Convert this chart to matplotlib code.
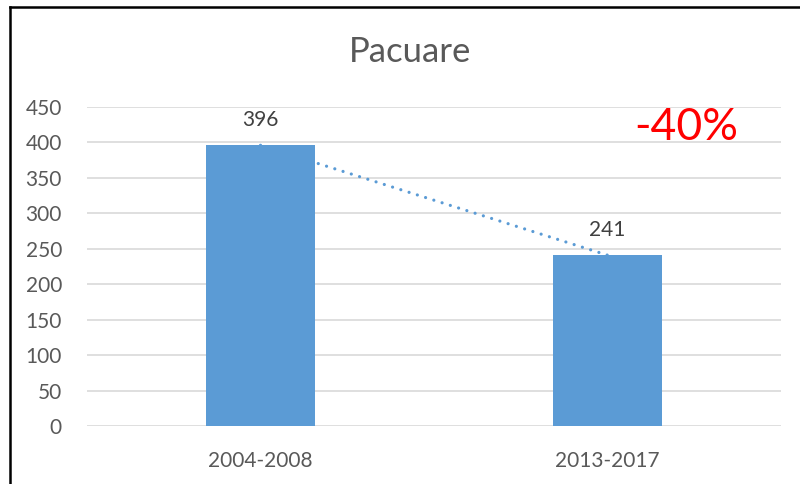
import matplotlib
matplotlib.use("Agg")
import matplotlib.pyplot as plt
import numpy as np
from matplotlib.lines import Line2D

categories = ["2004-2008", "2013-2017"]
values = [396, 241]
title = "Pacuare"
change_label = "-40%"
yticks = [0, 50, 100, 150, 200, 250, 300, 350, 400, 450]

plt.rcParams['font.family'] = ['Lato', 'DejaVu Sans']
text_col = '#595959'
bar_col = '#5B9BD5'

fig = plt.figure(figsize=(8, 4.84), dpi=100)
ax = fig.add_axes([87/800, 1-426/484, (781-87)/800, (426-107)/484])

x = np.arange(len(categories))
ax.bar(x, values, width=0.314, color=bar_col, zorder=3)
ax.set_xlim(-0.5, len(categories)-0.5)
ax.set_ylim(0, 450)
ax.set_yticks(yticks)
ax.set_xticks(x)
ax.set_xticklabels(categories)
ax.tick_params(axis='both', length=0, colors=text_col, labelsize=15)
ax.tick_params(axis='y', pad=18)
ax.tick_params(axis='x', pad=18)
for s in ax.spines.values():
    s.set_visible(False)
ax.grid(axis='y', color='#D9D9D9', linewidth=1.2, zorder=0)

# linear trend line
coef = np.polyfit(x, values, 1)
ax.plot(x, np.polyval(coef, x), linestyle=(0, (0.01, 2.7)), color=bar_col,
        linewidth=2.3, zorder=4, dash_capstyle='round')

for xi, v in zip(x, values):
    ax.annotate(str(v), (xi, v), xytext=(0, 18), textcoords='offset points',
                ha='center', va='center', fontsize=15, color='#404040')

fig.text(410/800, 1-52/484, title, ha='center', va='center', fontsize=25, color=text_col)
fig.text(686/800, 1-127/484, change_label, ha='center', va='center', fontsize=32, color='red')

# outer border (left and top)
fig.add_artist(Line2D([10/800, 10/800], [0, 1-7/484], transform=fig.transFigure, color='black', linewidth=1.8))
fig.add_artist(Line2D([10/800, 1], [1-7/484, 1-7/484], transform=fig.transFigure, color='black', linewidth=1.8))

fig.savefig("out.png", dpi=100)
